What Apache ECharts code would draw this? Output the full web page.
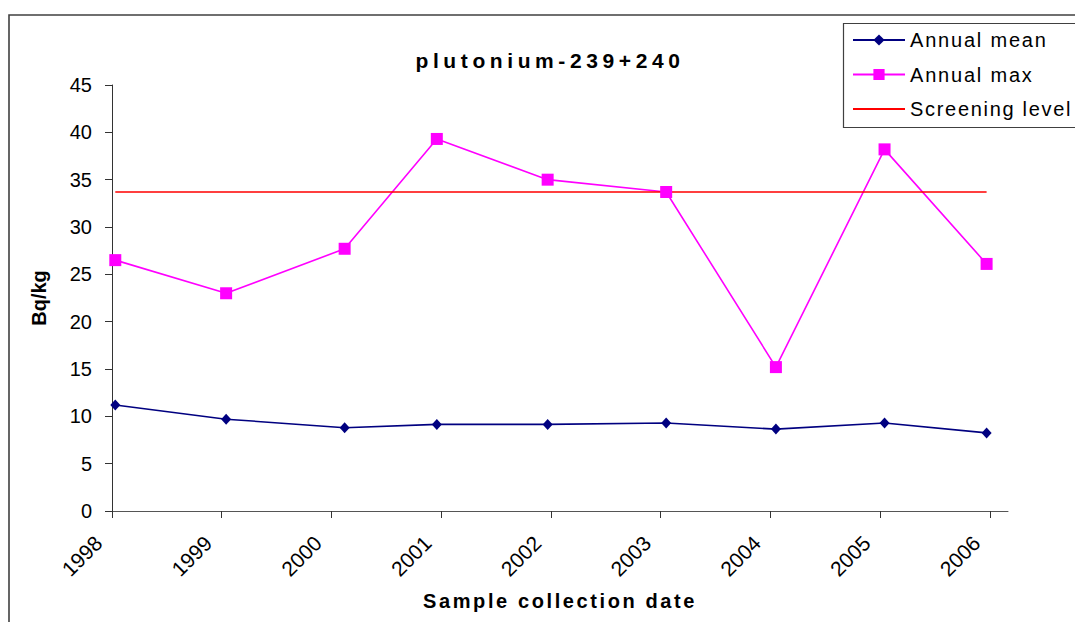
<!DOCTYPE html>
<html><head><meta charset="utf-8">
<script src="https://cdn.jsdelivr.net/npm/echarts@6/dist/echarts.min.js"></script>
<style>html,body{margin:0;padding:0;background:#fff}#c{width:1075px;height:622px}</style>
</head><body><div id="c"></div>
<script>
// Sample collection dates (decimal years, as placed on the date axis)
const sampleDates = [1998.03, 1999.04, 2000.12, 2000.96, 2001.97, 2003.05, 2004.05, 2005.04, 2005.97];
const tickYears = [1998, 1999, 2000, 2001, 2002, 2003, 2004, 2005, 2006];
const yTicks = [0, 5, 10, 15, 20, 25, 30, 35, 40, 45];
const annualMean = [11.2, 9.7, 8.8, 9.15, 9.15, 9.3, 8.65, 9.3, 8.25];
const annualMax = [26.5, 23.0, 27.7, 39.3, 35.0, 33.7, 15.2, 38.2, 26.1];
const screeningLevel = [33.7, 33.7, 33.7, 33.7, 33.7, 33.7, 33.7, 33.7, 33.7];
const seriesNames = ['Annual mean', 'Annual max', 'Screening level'];

const FONT = '"Liberation Sans", Arial, sans-serif';
const pair = (xs, ys) => xs.map((x, i) => [x, ys[i]]);

const chart = echarts.init(document.getElementById('c'), null, { renderer: 'svg' });
chart.setOption({
  animation: false,
  backgroundColor: '#fff',
  title: {
    text: 'plutonium-239+240',
    left: 545, top: 45, textAlign: 'center',
    textStyle: { fontFamily: FONT, fontSize: 21, fontWeight: 'bold', color: '#000' }
  },
  legend: {
    data: [
      { name: seriesNames[0] },
      { name: seriesNames[1] },
      { name: seriesNames[2], itemStyle: { opacity: 0 } }
    ],
    orient: 'vertical',
    left: 852, top: 30,
    padding: 0,
    itemWidth: 52, itemHeight: 14, itemGap: 14.5,
    textStyle: { fontFamily: FONT, fontSize: 20, color: '#000', lineHeight: 20 }
  },
  graphic: [
    { type: 'rect', z: -1, shape: { x: 9, y: 15, width: 1200, height: 800 },
      style: { fill: 'none', stroke: '#404040', lineWidth: 1.6 } },
    { type: 'rect', z: 10, shape: { x: 843.5, y: 23.5, width: 300, height: 104 },
      style: { fill: 'none', stroke: '#404040', lineWidth: 1.2 } }
  ],
  grid: { left: 112, right: 67, top: 85, bottom: 111, containLabel: false, outerBoundsMode: 'none' },
  xAxis: {
    type: 'value', min: 1998, max: 2006.165, interval: 1,
    name: 'Sample collection date', nameLocation: 'middle', nameGap: 80, nameMoveOverlap: false,
    nameTextStyle: { fontFamily: FONT, fontSize: 20, fontWeight: 'bold', color: '#000' },
    axisLine: { lineStyle: { color: '#555', width: 1 } },
    axisTick: { show: true, length: 7, lineStyle: { color: '#333' }, customValues: tickYears },
    axisLabel: { rotate: 45, margin: 15, padding: [0, 19, 0, 0], fontFamily: FONT, fontSize: 21, color: '#000',
      customValues: tickYears, formatter: v => String(Math.round(v)) },
    splitLine: { show: false }
  },
  yAxis: {
    type: 'value', min: 0, max: 45, interval: 5,
    name: 'Bq/kg', nameLocation: 'middle', nameRotate: 90, nameGap: 63,
    nameTextStyle: { fontFamily: FONT, fontSize: 20, fontWeight: 'bold', color: '#000' },
    axisLine: { show: true, lineStyle: { color: '#333', width: 1 } },
    axisTick: { show: true, length: 7, lineStyle: { color: '#333' } },
    axisLabel: { margin: 20, fontFamily: FONT, fontSize: 20, color: '#000',
      customValues: yTicks },
    splitLine: { show: false }
  },
  series: [
    { name: seriesNames[0], type: 'line', data: pair(sampleDates, annualMean),
      symbol: 'diamond', symbolSize: [10, 11], color: '#000080',
      lineStyle: { color: '#000080', width: 1.6 }, itemStyle: { color: '#000080' } },
    { name: seriesNames[1], type: 'line', data: pair(sampleDates, annualMax),
      symbol: 'rect', symbolSize: 12, color: '#FF00FF',
      lineStyle: { color: '#FF00FF', width: 1.6 }, itemStyle: { color: '#FF00FF' } },
    { name: seriesNames[2], type: 'line', data: pair(sampleDates, screeningLevel),
      symbol: 'none', showSymbol: false, color: '#FF0000',
      lineStyle: { color: '#FF0000', width: 1.6 }, itemStyle: { color: '#FF0000' } }
  ]
});

function spaceText() {
  const map = {
    'plutonium-239+240': '4.6px',
    'Sample collection date': '2.6px',
    'Annual mean': '1.8px', 'Annual max': '1.8px', 'Screening level': '1.7px'
  };
  document.querySelectorAll('#c svg text').forEach(t => {
    const s = map[t.textContent.trim()];
    if (s) t.style.letterSpacing = s;
  });
}
spaceText();
chart.on('finished', spaceText);
</script>
</body></html>
